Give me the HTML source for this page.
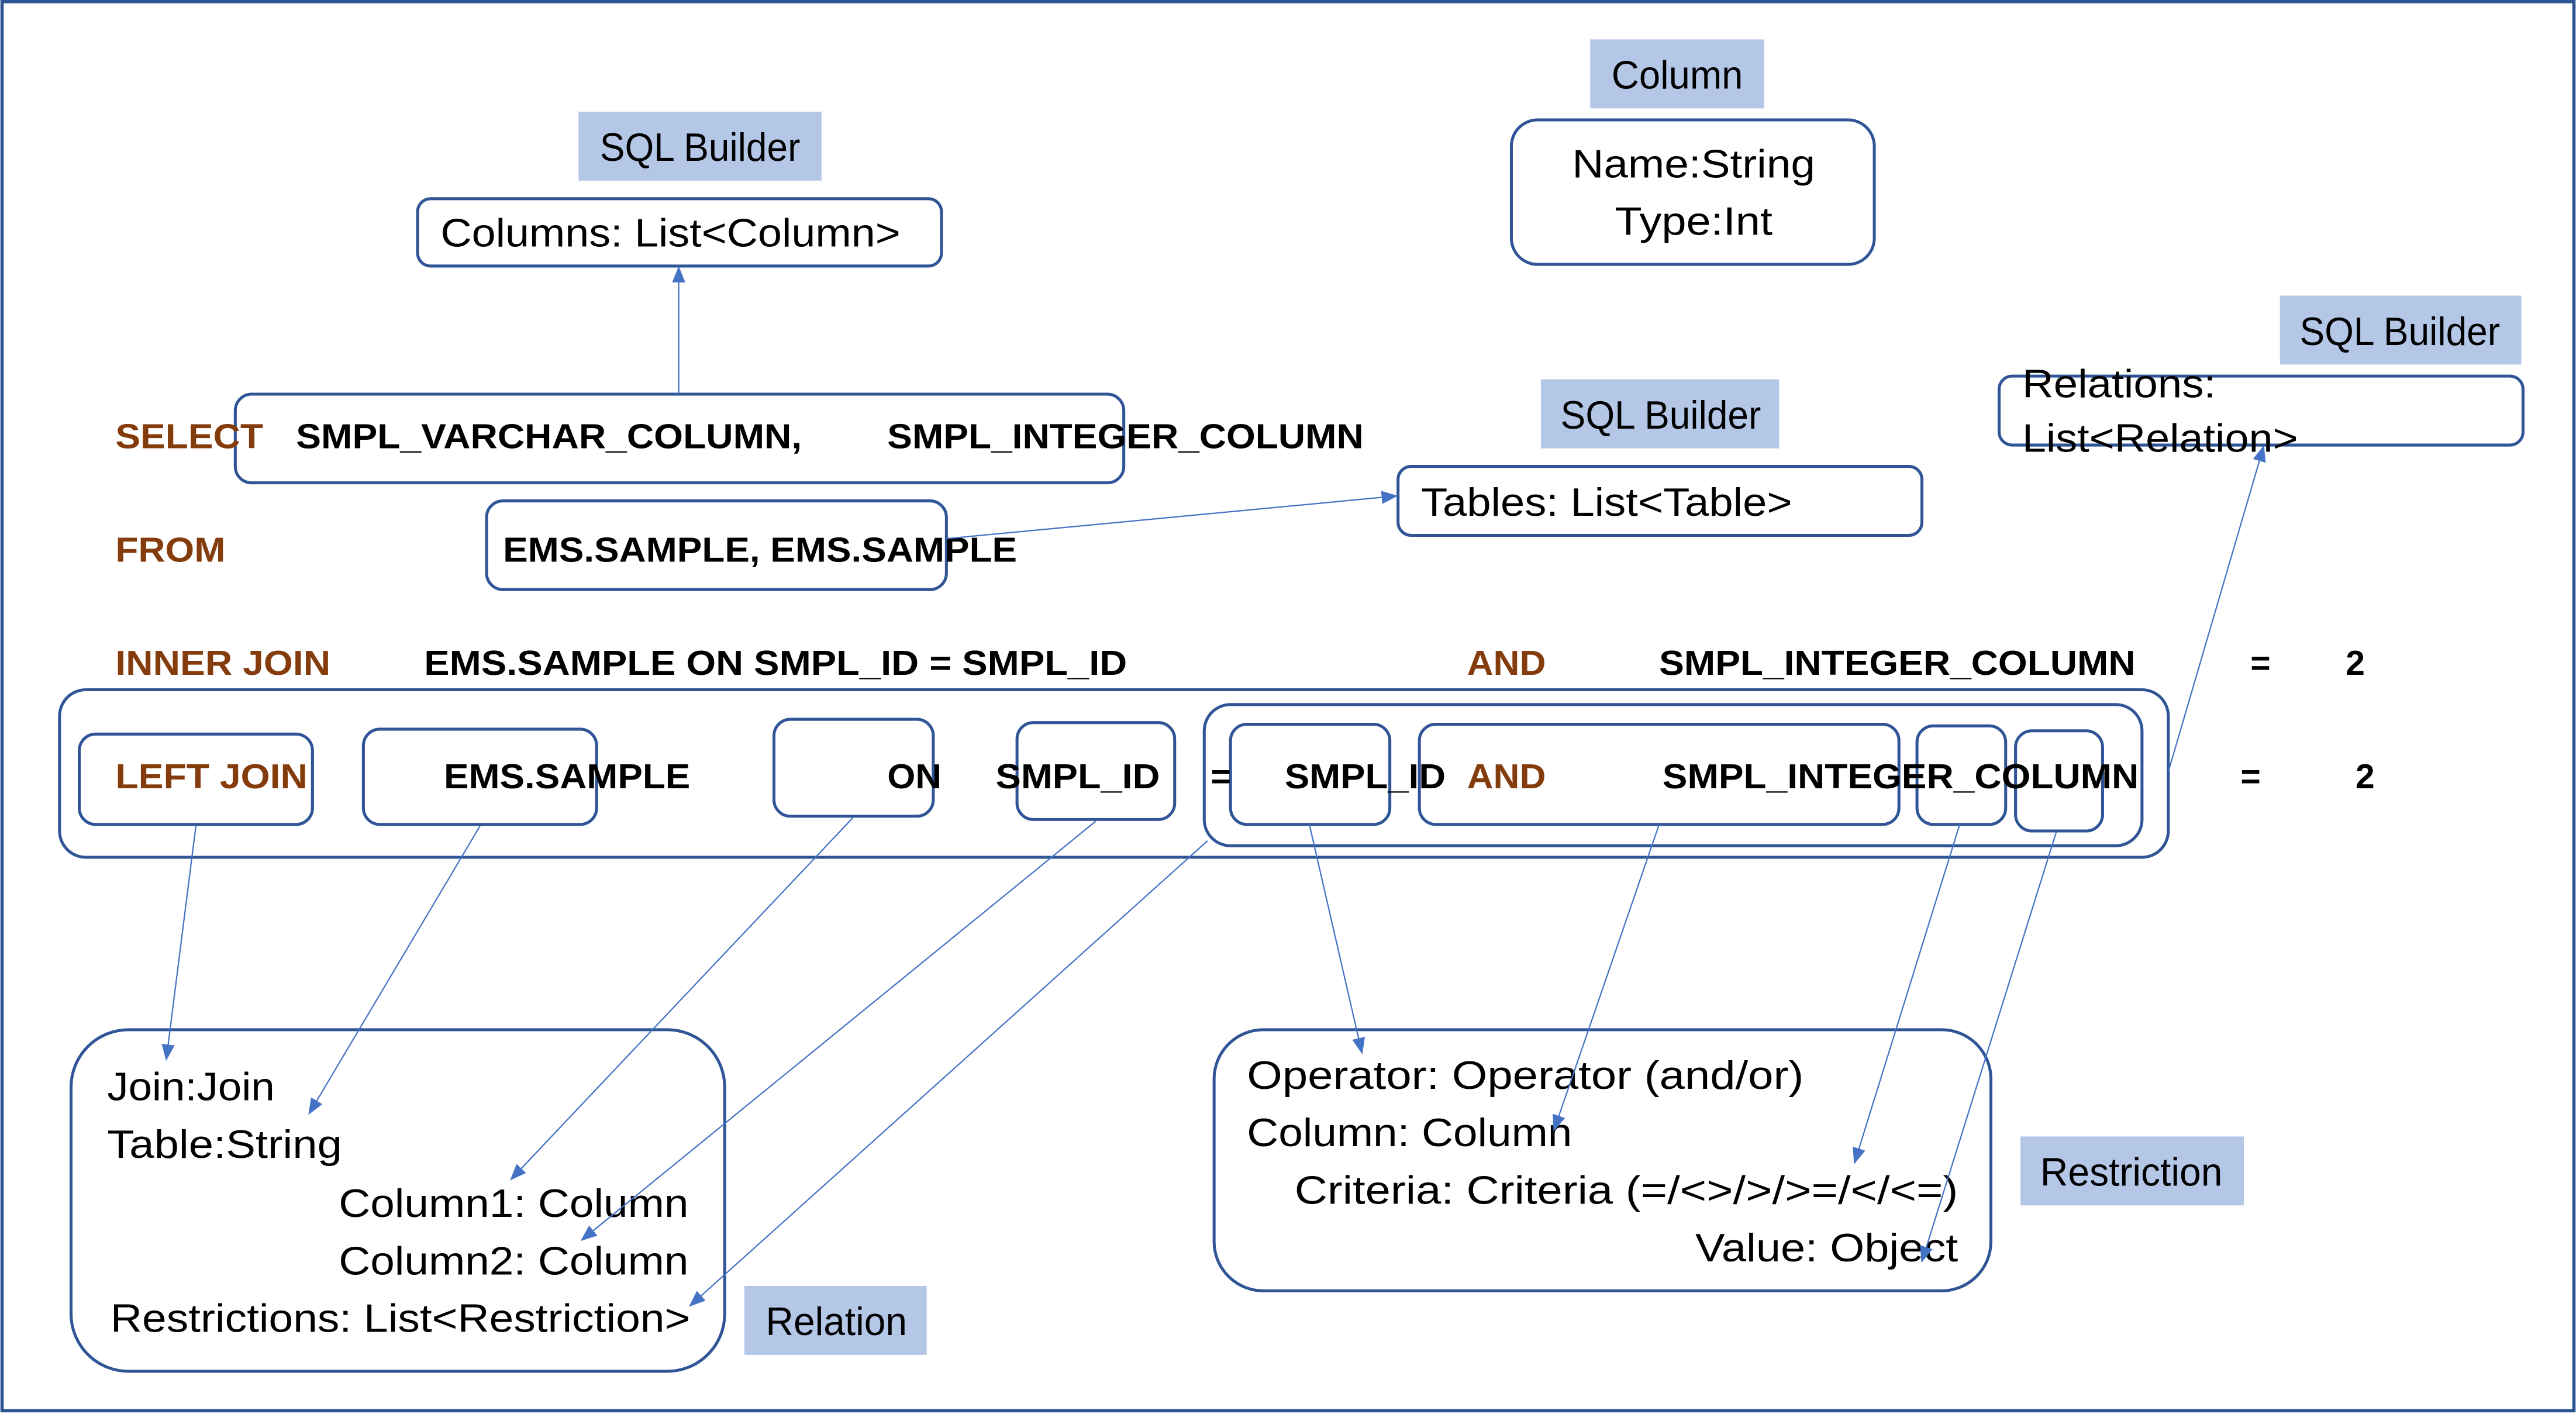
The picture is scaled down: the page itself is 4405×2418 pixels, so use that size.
<!DOCTYPE html>
<html><head><meta charset="utf-8"><style>
html,body{margin:0;padding:0;background:#fff;}
svg{display:block;}
.c{font-family:"Liberation Sans",sans-serif;font-size:24px;fill:#000;}
.s{font-family:"Liberation Sans",sans-serif;font-size:21px;font-weight:bold;fill:#000;}
.b{fill:#843C0C;}
.box{fill:none;stroke:#2F5597;stroke-width:1.8;}
.lab{fill:#B4C7E7;}
.ar{stroke:#4472C4;stroke-width:0.8;fill:none;marker-end:url(#m);}
</style></head><body>
<svg width="4405" height="2418" viewBox="0 0 1568 861" xmlns="http://www.w3.org/2000/svg">
<defs><marker id="m" markerWidth="10" markerHeight="10" refX="9" refY="5" orient="auto" markerUnits="userSpaceOnUse"><path d="M0,1 L10,5 L0,9 z" fill="#4472C4"/></marker></defs>
<rect x="1" y="1" width="1566" height="858" fill="#fff" stroke="#2F5597" stroke-width="2"/>

<rect class="lab" x="352" y="68" width="148" height="42"/>
<text class="c" x="365" y="98" textLength="122" lengthAdjust="spacingAndGlyphs">SQL Builder</text>
<rect class="box" x="254" y="121" width="319" height="41" rx="8"/>
<text class="c" x="268" y="150" textLength="280" lengthAdjust="spacingAndGlyphs">Columns: List&lt;Column&gt;</text>

<rect class="lab" x="968" y="24" width="106" height="42"/>
<text class="c" x="981" y="54" textLength="80" lengthAdjust="spacingAndGlyphs">Column</text>
<rect class="box" x="920" y="73" width="221" height="88" rx="16"/>
<text class="c" x="957" y="108" textLength="148" lengthAdjust="spacingAndGlyphs">Name:String</text>
<text class="c" x="983" y="143" textLength="96" lengthAdjust="spacingAndGlyphs">Type:Int</text>

<rect class="lab" x="1388" y="180" width="147" height="42"/>
<text class="c" x="1400" y="210" textLength="122" lengthAdjust="spacingAndGlyphs">SQL Builder</text>
<rect class="box" x="1217" y="229" width="319" height="42" rx="8"/>
<text class="c" x="1231" y="242" textLength="118" lengthAdjust="spacingAndGlyphs">Relations:</text>
<text class="c" x="1231" y="275" textLength="168" lengthAdjust="spacingAndGlyphs">List&lt;Relation&gt;</text>

<rect class="lab" x="938" y="231" width="145" height="42"/>
<text class="c" x="950" y="261" textLength="122" lengthAdjust="spacingAndGlyphs">SQL Builder</text>
<rect class="box" x="851" y="284" width="319" height="42" rx="8"/>
<text class="c" x="865" y="314" textLength="226" lengthAdjust="spacingAndGlyphs">Tables: List&lt;Table&gt;</text>

<rect class="box" x="143" y="240" width="541" height="54" rx="10"/>
<text class="s b" x="70" y="273" textLength="90" lengthAdjust="spacingAndGlyphs">SELECT</text>
<text class="s" x="180" y="273" textLength="308" lengthAdjust="spacingAndGlyphs">SMPL_VARCHAR_COLUMN,</text>
<text class="s" x="540" y="273" textLength="290" lengthAdjust="spacingAndGlyphs">SMPL_INTEGER_COLUMN</text>

<rect class="box" x="296" y="305" width="280" height="54" rx="10"/>
<text class="s b" x="70" y="342" textLength="67" lengthAdjust="spacingAndGlyphs">FROM</text>
<text class="s" x="306" y="342" textLength="313" lengthAdjust="spacingAndGlyphs">EMS.SAMPLE, EMS.SAMPLE</text>

<text class="s b" x="70" y="411" textLength="131" lengthAdjust="spacingAndGlyphs">INNER JOIN</text>
<text class="s" x="258" y="411" textLength="428" lengthAdjust="spacingAndGlyphs">EMS.SAMPLE  ON SMPL_ID = SMPL_ID</text>
<text class="s b" x="893" y="411" textLength="48" lengthAdjust="spacingAndGlyphs">AND</text>
<text class="s" x="1010" y="411" textLength="290" lengthAdjust="spacingAndGlyphs">SMPL_INTEGER_COLUMN</text>
<text class="s" x="1370" y="411">=</text>
<text class="s" x="1428" y="411">2</text>

<rect class="box" x="36" y="420" width="1284" height="102" rx="16"/>
<rect class="box" x="48" y="447" width="142" height="55" rx="10"/>
<rect class="box" x="221" y="444" width="142" height="58" rx="10"/>
<rect class="box" x="471" y="438" width="97" height="59" rx="10"/>
<rect class="box" x="619" y="440" width="96" height="59" rx="10"/>
<rect class="box" x="733" y="429" width="571" height="86" rx="16"/>
<rect class="box" x="749" y="441" width="97" height="61" rx="10"/>
<rect class="box" x="864" y="441" width="292" height="61" rx="10"/>
<rect class="box" x="1167" y="442" width="54" height="60" rx="10"/>
<rect class="box" x="1227" y="445" width="53" height="61" rx="10"/>
<text class="s b" x="70" y="480" textLength="117" lengthAdjust="spacingAndGlyphs">LEFT JOIN</text>
<text class="s" x="270" y="480" textLength="150" lengthAdjust="spacingAndGlyphs">EMS.SAMPLE</text>
<text class="s" x="540" y="480" textLength="33" lengthAdjust="spacingAndGlyphs">ON</text>
<text class="s" x="606" y="480" textLength="100" lengthAdjust="spacingAndGlyphs">SMPL_ID</text>
<text class="s" x="737" y="480">=</text>
<text class="s" x="782" y="480" textLength="98" lengthAdjust="spacingAndGlyphs">SMPL_ID</text>
<text class="s b" x="893" y="480" textLength="48" lengthAdjust="spacingAndGlyphs">AND</text>
<text class="s" x="1012" y="480" textLength="290" lengthAdjust="spacingAndGlyphs">SMPL_INTEGER_COLUMN</text>
<text class="s" x="1364" y="480">=</text>
<text class="s" x="1434" y="480">2</text>

<rect class="box" x="43" y="627" width="398" height="208" rx="35"/>
<text class="c" x="65" y="670" textLength="102" lengthAdjust="spacingAndGlyphs">Join:Join</text>
<text class="c" x="65" y="705" textLength="143" lengthAdjust="spacingAndGlyphs">Table:String</text>
<text class="c" x="206" y="741" textLength="213" lengthAdjust="spacingAndGlyphs">Column1: Column</text>
<text class="c" x="206" y="776" textLength="213" lengthAdjust="spacingAndGlyphs">Column2: Column</text>
<text class="c" x="67" y="811" textLength="353" lengthAdjust="spacingAndGlyphs">Restrictions: List&lt;Restriction&gt;</text>
<rect class="lab" x="453" y="783" width="111" height="42"/>
<text class="c" x="466" y="813" textLength="86" lengthAdjust="spacingAndGlyphs">Relation</text>

<rect class="box" x="739" y="627" width="473" height="159" rx="30"/>
<text class="c" x="759" y="663" textLength="339" lengthAdjust="spacingAndGlyphs">Operator: Operator (and/or)</text>
<text class="c" x="759" y="698" textLength="198" lengthAdjust="spacingAndGlyphs">Column: Column</text>
<text class="c" x="788" y="733" textLength="404" lengthAdjust="spacingAndGlyphs">Criteria: Criteria (=/&lt;&gt;/&gt;/&gt;=/&lt;/&lt;=)</text>
<text class="c" x="1032" y="768" textLength="160" lengthAdjust="spacingAndGlyphs">Value: Object</text>
<rect class="lab" x="1230" y="692" width="136" height="42"/>
<text class="c" x="1242" y="722" textLength="111" lengthAdjust="spacingAndGlyphs">Restriction</text>

<line class="ar" x1="413" y1="240" x2="413" y2="163"/>
<line class="ar" x1="576" y1="328" x2="850" y2="302"/>
<line class="ar" x1="1320" y1="470" x2="1378" y2="272"/>
<line class="ar" x1="119" y1="503" x2="101" y2="645"/>
<line class="ar" x1="292" y1="503" x2="188" y2="678"/>
<line class="ar" x1="519" y1="498" x2="311" y2="718"/>
<line class="ar" x1="667" y1="500" x2="354" y2="755"/>
<line class="ar" x1="735" y1="512" x2="420" y2="795"/>
<line class="ar" x1="797" y1="502" x2="829" y2="641"/>
<line class="ar" x1="1010" y1="502" x2="946" y2="688"/>
<line class="ar" x1="1193" y1="502" x2="1129" y2="708"/>
<line class="ar" x1="1252" y1="506" x2="1170" y2="768"/>
</svg>
</body></html>
